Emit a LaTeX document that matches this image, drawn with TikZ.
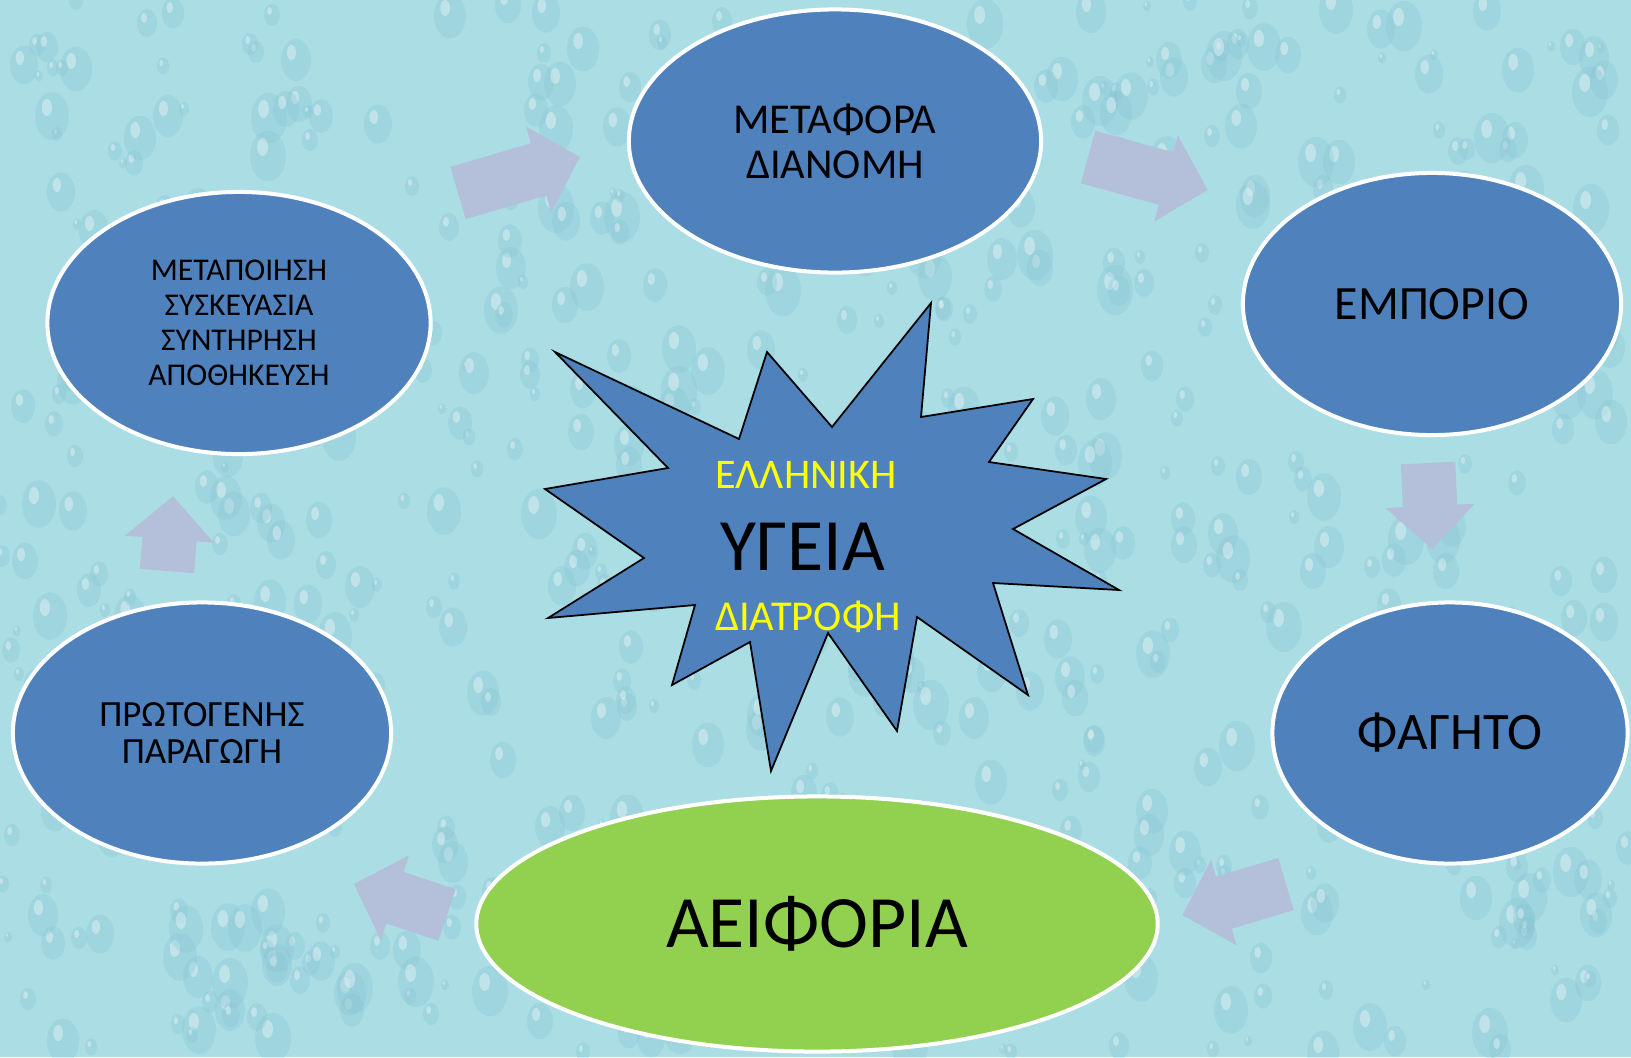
\documentclass[tikz,border=0pt]{standalone}
\usepackage{fontspec}
\setmainfont{Carlito}
\usetikzlibrary{shapes.geometric,shapes.arrows}

\definecolor{waterbg}{HTML}{ABDDE5}
\definecolor{dropshade}{HTML}{86C4D4}
\definecolor{stageblue}{HTML}{4F81BD}
\definecolor{leafgreen}{HTML}{92D050}
\definecolor{flowgray}{HTML}{B4BFDA}
\definecolor{burstyellow}{HTML}{FFFF00}

\begin{document}
\begin{tikzpicture}[
  x=0.01cm, y=-0.01cm,
  stage/.style={ellipse, draw=white, line width=0.4mm, fill=stageblue, align=center, inner sep=0pt},
  flow/.style={single arrow, fill=flowgray, inner xsep=0pt, inner ysep=2.65mm,
    single arrow head extend=1.75mm, single arrow tip angle=92, anchor=tail, outer sep=0pt},
  burst/.style={draw=black, line width=0.5pt, fill=stageblue, line join=miter},
  drop/.style={fill=dropshade, opacity=0.3},
  fs/.style 2 args={font=\fontsize{#1}{#2}\selectfont}
]

% Background with water drops
\useasboundingbox (0,0) rectangle (1631,1057);
\fill[waterbg] (0,0) rectangle (1631,1057);
\begin{scope}
  \clip (0,0) rectangle (1631,1057);
  \pgfmathsetseed{7}
  \foreach \i in {1,...,650} {
    \pgfmathsetmacro{\px}{random(0,1631)}
    \pgfmathsetmacro{\py}{random(0,1057)}
    \pgfmathsetmacro{\pr}{random(4,18)}
    \fill[drop] (\px,\py) ellipse ({\pr*0.01cm} and {\pr*0.014cm});
    \fill[white, opacity=0.35] (\px-0.3*\pr,\py-0.5*\pr) ellipse ({\pr*0.003cm} and {\pr*0.005cm});
  }
\end{scope}

% Flow arrows (tail position, direction)
\node[flow, rotate=16.4,   minimum height=12.7mm] (flowA) at (458,193) {};
\node[flow, rotate=-15.4,  minimum height=12.4mm] (flowB) at (1088,157) {};
\node[flow, rotate=-87.3,  minimum height=8.6mm]  (flowC) at (1428,463) {};
\node[flow, rotate=-163.3, minimum height=10.8mm] (flowD) at (1286,884) {};
\node[flow, rotate=161.6,  minimum height=9.8mm]  (flowE) at (447,915) {};
\node[flow, rotate=85.4,   minimum height=7.5mm]  (flowF) at (167,571) {};

% Stages of the chain
\node[stage, minimum width=4.12cm, minimum height=2.63cm, fs={12.1}{12.8}] (transport) at (835,141)
  {ΜΕΤΑΦΟΡΑ\\ΔΙΑΝΟΜΗ};
\node[stage, minimum width=3.78cm, minimum height=2.62cm, fs={13.6}{16}] (trade) at (1432,304)
  {ΕΜΠΟΡΙΟ};
\node[stage, minimum width=3.55cm, minimum height=2.61cm, fs={15}{18}] (food) at (1450,733)
  {ΦΑΓΗΤΟ};
\node[stage, fill=leafgreen, minimum width=6.81cm, minimum height=2.55cm, fs={21}{24}] (sustain) at (817,924)
  {ΑΕΙΦΟΡΙΑ};
\node[stage, minimum width=3.78cm, minimum height=2.61cm, fs={10.5}{10.8}] (primary) at (202,733)
  {ΠΡΩΤΟΓΕΝΗΣ\\ΠΑΡΑΓΩΓΗ};
\node[stage, minimum width=3.83cm, minimum height=2.62cm, fs={9}{9.96}] (processing) at (239,323)
  {ΜΕΤΑΠΟΙΗΣΗ\\ΣΥΣΚΕΥΑΣΙΑ\\ΣΥΝΤΗΡΗΣΗ\\ΑΠΟΘΗΚΕΥΣΗ};

% Central burst
\draw[burst] (555,352) -- (739,439) -- (767,352) -- (832,427) -- (931,303)
  -- (921,417) -- (1033,399) -- (989,462) -- (1106,479) -- (1013,529)
  -- (1119,590) -- (993,583) -- (1028,695) -- (917,617) -- (897,731)
  -- (828,633) -- (771,771) -- (750,642) -- (672,685) -- (695,605)
  -- (548,618) -- (644,558) -- (545,489) -- (668,468) -- cycle;

\node[fs={12}{14}, text=burstyellow, inner sep=0pt] (greek) at (806,475) {ΕΛΛΗΝΙΚΗ};
\node[fs={21}{24}, inner sep=0pt] (health) at (803,547) {ΥΓΕΙΑ};
\node[fs={12.1}{14}, text=burstyellow, inner sep=0pt] (diet) at (808,617) {ΔΙΑΤΡΟΦΗ};

\end{tikzpicture}
\end{document}
